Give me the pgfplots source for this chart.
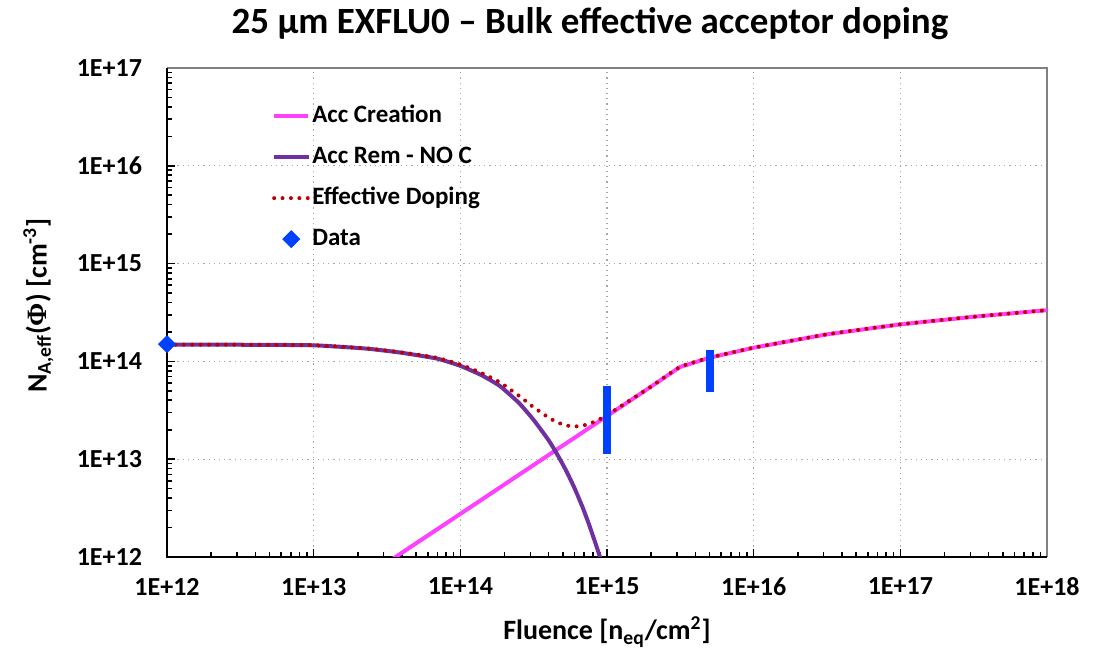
\documentclass[border=0pt]{standalone}
\usepackage{fontspec}
\setmainfont{Carlito}
\newfontfamily\phifont{Liberation Serif}
\usepackage{pgfplots}
\pgfplotsset{compat=1.18}

\definecolor{accpink}{HTML}{FF40FF}
\definecolor{accpurple}{HTML}{7030A0}
\definecolor{effred}{HTML}{C00000}
\definecolor{datablue}{HTML}{0040FF}
\definecolor{gridgray}{HTML}{A6A6A6}
\definecolor{framegray}{HTML}{808080}

\begin{document}
\begin{tikzpicture}
\useasboundingbox (-83.5pt,-45.5pt) rectangle (471.5pt,278.5pt);
\begin{axis}[
  at={(0,0)}, anchor=south west,
  scale only axis, width=440pt, height=244.5pt,
  xmode=log, ymode=log,
  xmin=1e12, xmax=1e18, ymin=1e12, ymax=1e17,
  axis line style={draw=none},
  xtick pos=bottom, ytick pos=left,
  tick align=inside, tick style={black, line width=0.8pt},
  major tick length=4pt, minor tick length=2.6pt,
  xtick={1e12,1e13,1e14,1e15,1e16,1e17,1e18},
  xticklabels={1E+12,1E+13,1E+14,1E+15,1E+16,1E+17,1E+18},
  ytick={1e12,1e13,1e14,1e15,1e16,1e17},
  yticklabels={1E+12,1E+13,1E+14,1E+15,1E+16,1E+17},
  minor xtick={2e12,3e12,4e12,5e12,6e12,7e12,8e12,9e12,
               2e13,3e13,4e13,5e13,6e13,7e13,8e13,9e13,
               2e14,3e14,4e14,5e14,6e14,7e14,8e14,9e14,
               2e15,3e15,4e15,5e15,6e15,7e15,8e15,9e15,
               2e16,3e16,4e16,5e16,6e16,7e16,8e16,9e16,
               2e17,3e17,4e17,5e17,6e17,7e17,8e17,9e17},
  minor ytick={2e12,3e12,4e12,5e12,6e12,7e12,8e12,9e12,
               2e13,3e13,4e13,5e13,6e13,7e13,8e13,9e13,
               2e14,3e14,4e14,5e14,6e14,7e14,8e14,9e14,
               2e15,3e15,4e15,5e15,6e15,7e15,8e15,9e15,
               2e16,3e16,4e16,5e16,6e16,7e16,8e16,9e16},
  xmajorgrids, ymajorgrids,
  major grid style={gridgray, line width=0.6pt, dotted},
  every tick label/.append style={font=\fontsize{13}{15}\bfseries\selectfont},
  xticklabel style={yshift=-7pt},
  yticklabel style={xshift=-9pt},
  clip mode=individual,
  legend cell align=left,
  legend style={draw=none, fill=none, inner sep=0pt,
    at={(rel axis cs:0.119,0.931)}, anchor=north west,
    row sep=6.5pt,
    nodes={inner sep=1pt, text height=9pt, text depth=3pt,
           font=\fontsize{12.5}{14}\bfseries\selectfont}},
]
% plot area frame: gray top and right, black left and bottom
\draw[framegray, line width=0.6pt] (rel axis cs:0,1) -- (rel axis cs:1,1) -- (rel axis cs:1,0);
\draw[black, line width=1pt] (rel axis cs:0,1) -- (rel axis cs:0,0) -- (rel axis cs:1,0);
% acceptor creation
\addplot[accpink, line width=2pt] coordinates {
  (3e13,8.3e11) (1e14,2.76e12) (1e15,2.76e13) (1.99e15,5.5e13)
  (3.14e15,8.75e13) (5e15,1.09e14) (1e16,1.38e14) (3.16e16,1.89e14)
  (1e17,2.39e14) (3.16e17,2.86e14) (1e18,3.34e14)};
\addlegendentry{Acc Creation}
% acceptor removal, no carbon
\addplot[accpurple, line width=2pt, smooth, tension=0.3] coordinates {
  (1e12,1.48e14) (3e12,1.48e14) (1e13,1.46e14) (2.3e13,1.35e14)
  (3.9e13,1.23e14) (6.9e13,1.07e14) (1e14,9.0e13) (1.4e14,7.2e13)
  (1.86e14,5.6e13) (2.5e14,3.78e13) (3.14e14,2.55e13) (4e14,1.56e13)
  (4.64e14,1.08e13) (5.3e14,7.48e12) (6e14,5.07e12) (6.8e14,3.25e12)
  (7.5e14,2.2e12) (8.2e14,1.49e12) (8.95e14,1.0e12) (1e15,5.5e11)};
\addlegendentry{Acc Rem - NO C}
% effective doping
\addplot[effred, line width=2pt, line cap=round, dash pattern=on 0pt off 4.2pt, smooth, tension=0.3] coordinates {
  (1e12,1.48e14) (3e12,1.48e14) (1e13,1.46e14) (2.3e13,1.356e14)
  (3.9e13,1.241e14) (6.9e13,1.089e14) (1e14,9.28e13) (1.4e14,7.59e13)
  (1.86e14,6.11e13) (2.5e14,4.47e13) (3.14e14,3.42e13) (4e14,2.66e13)
  (4.64e14,2.36e13) (5.3e14,2.21e13) (6e14,2.16e13) (6.8e14,2.2e13)
  (7.5e14,2.29e13) (8.2e14,2.41e13) (8.95e14,2.57e13) (1e15,2.82e13)
  (1.99e15,5.5e13) (3.14e15,8.75e13) (5e15,1.09e14) (1e16,1.38e14)
  (3.16e16,1.89e14) (1e17,2.39e14) (3.16e17,2.86e14) (1e18,3.34e14)};
\addlegendentry{Effective Doping}
% measured points
\addplot[only marks, mark=square*, mark size=3pt, mark options={rotate=45}, color=datablue] coordinates {
  (1e12,1.5e14)};
\addlegendentry{Data}
\addplot[forget plot, draw=none, mark=none,
  error bars/.cd, y dir=both, y explicit, error mark=none,
  error bar style={datablue, line width=4pt}] coordinates {
  (1e15,2.5e13) += (0,3.1e13) -= (0,1.38e13)
  (5e15,8.0e13) += (0,5.1e13) -= (0,3.15e13)};
\end{axis}
\node[anchor=base, font=\fontsize{18.5}{22}\bfseries\selectfont] at (211.5pt,261.8pt)
  {25 µm EXFLU0 – Bulk effective acceptor doping};
\node[anchor=base, font=\fontsize{14}{17}\bfseries\selectfont] at (220pt,-41.5pt)
  {Fluence [n\textsubscript{eq}/cm\textsuperscript{2}]};
\node[anchor=base, rotate=90, font=\fontsize{14}{17}\bfseries\selectfont] at (-60.2pt,125.75pt)
  {N\textsubscript{A,eff}({\phifont Φ}) [cm\textsuperscript{-3}]};
\end{tikzpicture}
\end{document}
